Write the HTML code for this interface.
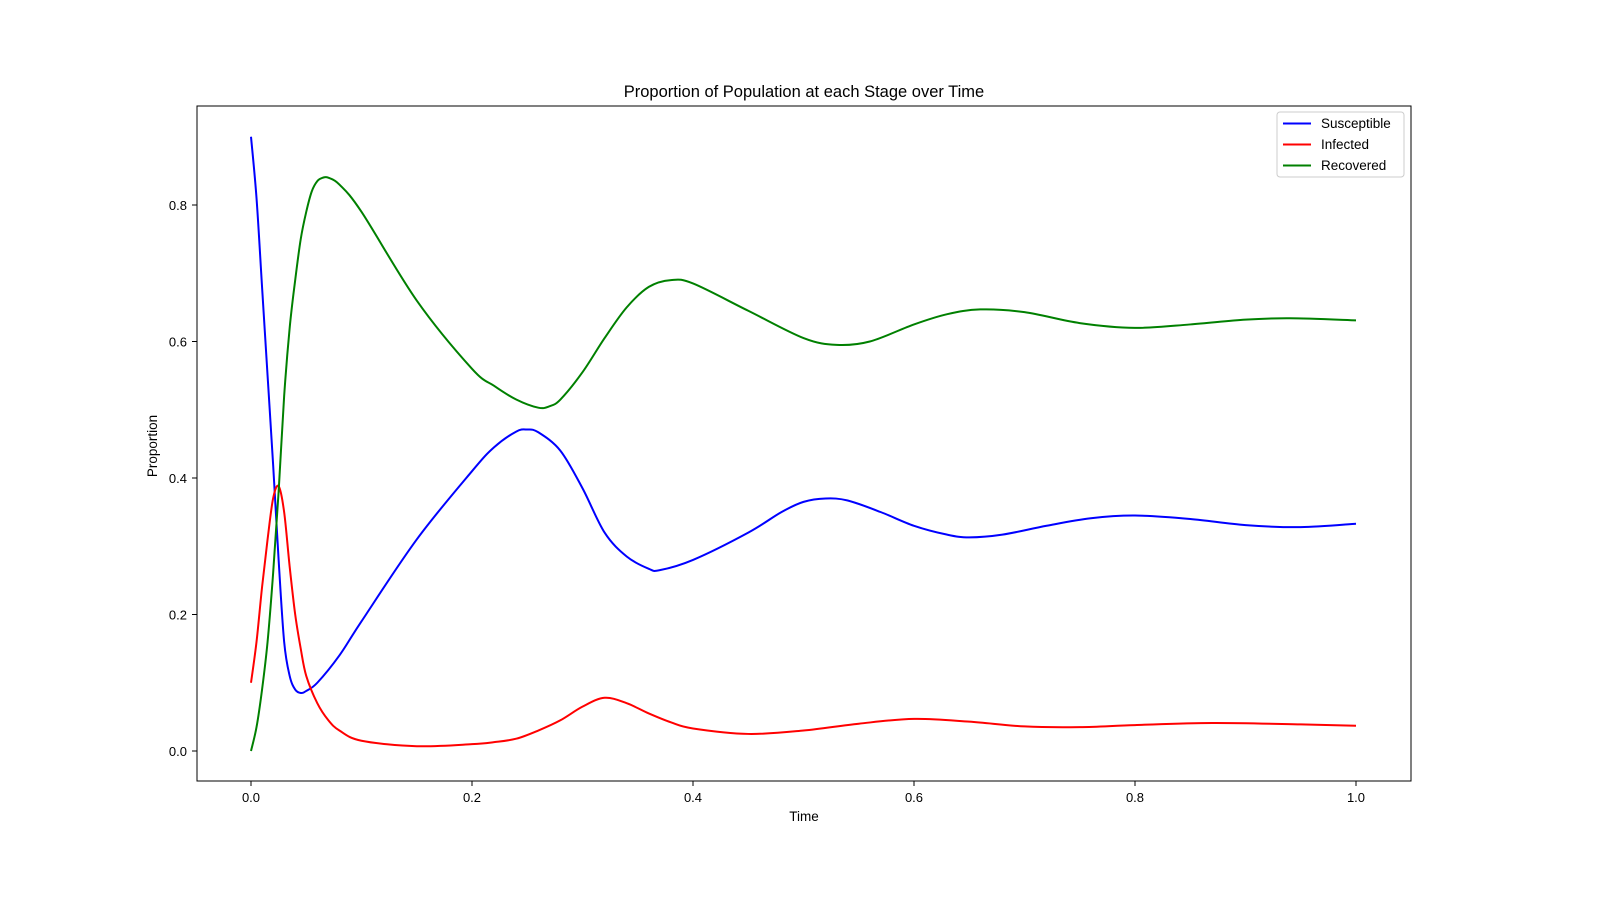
<!DOCTYPE html>
<html><head><meta charset="utf-8"><style>
body{margin:0;background:#fff}
svg text{font-family:"Liberation Sans","DejaVu Sans",sans-serif;fill:#000}
</style></head><body>
<svg id="chart" width="1600" height="896" xmlns="http://www.w3.org/2000/svg">
<rect width="1600" height="896" fill="#fff"/>
<text x="804" y="97" font-size="16.5" text-anchor="middle">Proportion of Population at each Stage over Time</text>
<g id="marks"></g>
<rect x="197" y="106" width="1214" height="675" fill="none" stroke="#000" stroke-width="1"/>
<g id="axes"></g>
<text x="804" y="821" font-size="13.5" text-anchor="middle">Time</text>
<text x="157" y="446" font-size="13.5" text-anchor="middle" transform="rotate(-90 157 446)">Proportion</text>
<g>
<rect x="1277" y="112" width="127" height="65" rx="3" fill="#fff" stroke="#ccc"/>
<g><line x1="1283" x2="1311" y1="123.5" y2="123.5" stroke="#0000ff" stroke-width="2"/><text x="1321" y="128" font-size="13.5">Susceptible</text></g>
<g><line x1="1283" x2="1311" y1="144.5" y2="144.5" stroke="#ff0000" stroke-width="2"/><text x="1321" y="149" font-size="13.5">Infected</text></g>
<g><line x1="1283" x2="1311" y1="165.5" y2="165.5" stroke="#008000" stroke-width="2"/><text x="1321" y="170" font-size="13.5">Recovered</text></g>
</g>
</svg>
<script>
const xTicks=[0,0.2,0.4,0.6,0.8,1.0];
const xTickLabels=["0.0","0.2","0.4","0.6","0.8","1.0"];
const yTicks=[0,0.2,0.4,0.6,0.8];
const yTickLabels=["0.0","0.2","0.4","0.6","0.8"];
const sT=[0,.005,.01,.015,.02,.025,.03,.035,.04,.045,.05,.06,.08,.1,.15,.2,.22,.24,.25,.26,.28,.3,.32,.34,.36,.37,.4,.45,.48,.5,.52,.54,.57,.6,.63,.65,.68,.72,.76,.8,.85,.9,.95,1.0];
const sV=[.90,.81,.68,.55,.42,.28,.16,.11,.09,.085,.088,.10,.14,.19,.31,.41,.445,.468,.471,.467,.44,.385,.32,.285,.267,.265,.28,.32,.35,.365,.37,.367,.35,.33,.317,.313,.317,.33,.341,.345,.34,.331,.328,.333];
const iT=[0,.005,.01,.015,.02,.025,.03,.035,.04,.045,.05,.06,.07,.08,.1,.15,.2,.22,.24,.26,.28,.3,.32,.34,.36,.38,.4,.45,.5,.55,.6,.65,.7,.75,.8,.87,.95,1.0];
const iV=[.10,.16,.24,.31,.37,.388,.35,.27,.20,.15,.11,.07,.045,.03,.015,.007,.01,.013,.018,.03,.045,.065,.078,.07,.055,.042,.033,.025,.03,.04,.047,.043,.036,.035,.038,.041,.039,.037];
const rT=[0,.005,.01,.015,.02,.025,.03,.035,.04,.045,.05,.055,.06,.065,.07,.08,.1,.15,.2,.22,.24,.26,.27,.28,.3,.32,.34,.36,.38,.4,.45,.5,.53,.56,.6,.63,.66,.7,.75,.8,.85,.9,.94,1.0];
const rV=[0,.035,.09,.16,.26,.38,.52,.62,.69,.75,.79,.82,.835,.84,.84,.83,.79,.66,.56,.535,.515,.503,.505,.515,.555,.605,.65,.68,.69,.685,.645,.605,.595,.6,.625,.64,.647,.643,.627,.62,.625,.632,.634,.631];
const X=t=>251+(t-0)*1105, Y=v=>751-v*682.5;
const NS="http://www.w3.org/2000/svg";
const axes=document.getElementById('axes'), marks=document.getElementById('marks');
function mk(tag,attrs,parent){const e=document.createElementNS(NS,tag);for(const k in attrs)e.setAttribute(k,attrs[k]);parent.appendChild(e);return e;}
xTicks.forEach((t,i)=>{
 const l=mk('line',{x1:X(t),x2:X(t),y1:781,y2:786,stroke:'#000'},axes);
 
 
 const tx=mk('text',{x:X(t),y:802,'font-size':13,'text-anchor':'middle'},axes);tx.textContent=xTickLabels[i];
 
 
});
yTicks.forEach((v,i)=>{
 const l=mk('line',{x1:192,x2:197,y1:Y(v),y2:Y(v),stroke:'#000'},axes);
 
 
 const tx=mk('text',{x:187,y:Y(v)+5,'font-size':13,'text-anchor':'end'},axes);tx.textContent=yTickLabels[i];
 
 
});
function path(T,V){const p=T.map((t,i)=>[X(t),Y(V[i])]);let d=`M${p[0][0]},${p[0][1]}`;
 for(let i=0;i<p.length-1;i++){const p0=p[Math.max(0,i-1)],p1=p[i],p2=p[i+1],p3=p[Math.min(p.length-1,i+2)];
  const c1=[p1[0]+(p2[0]-p0[0])/6,p1[1]+(p2[1]-p0[1])/6],c2=[p2[0]-(p3[0]-p1[0])/6,p2[1]-(p3[1]-p1[1])/6];
  d+=`C${c1[0]},${c1[1]} ${c2[0]},${c2[1]} ${p2[0]},${p2[1]}`;}
 return d;}
const ls=mk('path',{d:path(sT,sV),fill:'none',stroke:'#0000ff','stroke-width':2},marks);


const li=mk('path',{d:path(iT,iV),fill:'none',stroke:'#ff0000','stroke-width':2},marks);


const lr=mk('path',{d:path(rT,rV),fill:'none',stroke:'#008000','stroke-width':2},marks);


</script>
</body></html>
